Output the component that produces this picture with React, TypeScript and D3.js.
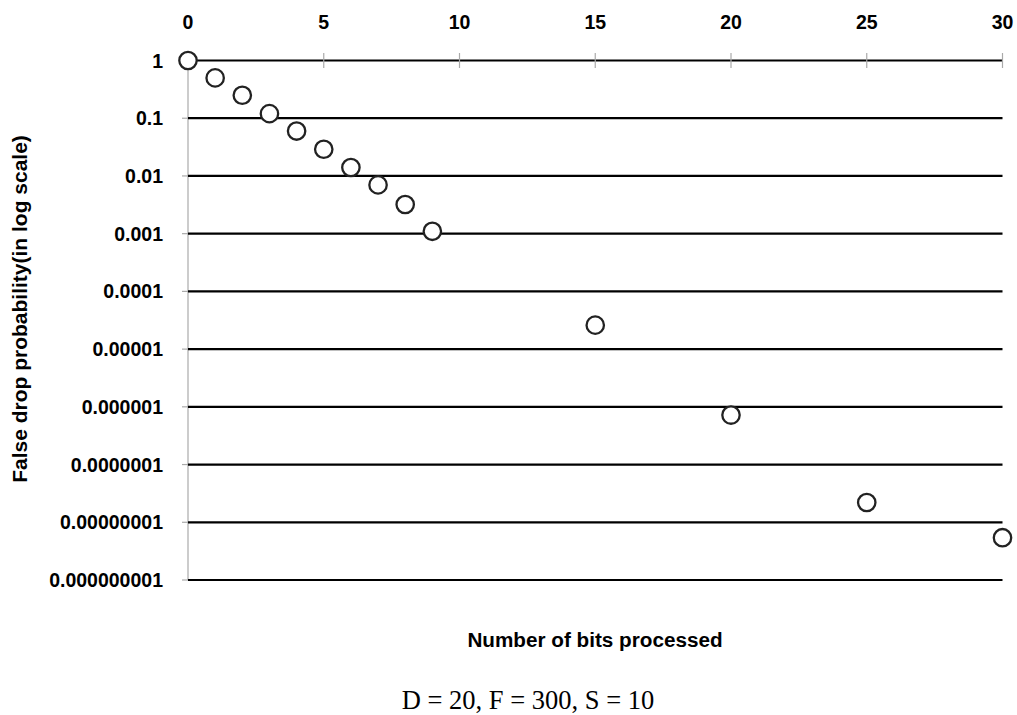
import React from 'react';
import * as d3 from 'd3';

// bits processed and false drop probability
const bits = [0, 1, 2, 3, 4, 5, 6, 7, 8, 9, 15, 20, 25, 30];
const probability = [1, 0.5, 0.25, 0.12, 0.06, 0.029, 0.014, 0.007, 0.0032, 0.0011,
  0.000026, 0.00000072, 0.000000022, 0.0000000054];
const xTicks = [0, 5, 10, 15, 20, 25, 30];
const yTicks = [1, 0.1, 0.01, 0.001, 0.0001, 0.00001, 0.000001, 0.0000001, 0.00000001, 0.000000001];
const yTickLabels = ['1', '0.1', '0.01', '0.001', '0.0001', '0.00001', '0.000001',
  '0.0000001', '0.00000001', '0.000000001'];

const W = 1017, H = 715;
const font = '"Liberation Sans", Arial, sans-serif';

export default function App() {
  const x = d3.scaleLinear().domain([0, 30]).range([188, 1002.5]);
  const y = d3.scaleLog().domain([1, 1e-9]).range([60.5, 580]);

  return (
    <svg width={W} height={H} style={{ position: 'absolute', left: 0, top: 0, background: '#fff' }}>
      {/* left axis line */}
      <line x1={x(0)} x2={x(0)} y1={y(1)} y2={y(1e-9)} stroke="#aaa" strokeWidth={1.2} />
      {/* horizontal gridlines */}
      {yTicks.map((t, i) => (
        <g key={'y' + i}>
          <line x1={182} x2={x(0)} y1={y(t)} y2={y(t)} stroke="#aaa" strokeWidth={1.2} />
          <line x1={x(0)} x2={x(30)} y1={y(t)} y2={y(t)} stroke="#000" strokeWidth={2.2} />
          <text x={163} y={y(t)} dy="0.36em" textAnchor="end" fontFamily={font}
            fontWeight="bold" fontSize={19.5}>{yTickLabels[i]}</text>
        </g>
      ))}
      {/* top axis ticks */}
      {xTicks.map(t => (
        <g key={'x' + t}>
          <line x1={x(t)} x2={x(t)} y1={53} y2={68} stroke="#aaa" strokeWidth={1.2} />
          <text x={x(t)} y={29} textAnchor="middle" fontFamily={font}
            fontWeight="bold" fontSize={19.5}>{t}</text>
        </g>
      ))}
      {/* points */}
      {bits.map((b, i) => (
        <circle key={'p' + i} cx={x(b)} cy={y(probability[i])} r={8.7}
          fill="#fff" stroke="#222" strokeWidth={2.3} />
      ))}
      <text transform={`translate(27,309) rotate(-90)`} textAnchor="middle"
        fontFamily={font} fontWeight="bold" fontSize={21}>False drop probability(in log scale)</text>
      <text x={595} y={647} textAnchor="middle" fontFamily={font}
        fontWeight="bold" fontSize={20.7}>Number of bits processed</text>
      <text x={528} y={709} textAnchor="middle" fontFamily='"Liberation Serif", "Times New Roman", serif'
        fontSize={26.5}>D = 20, F = 300, S = 10</text>
    </svg>
  );
}
